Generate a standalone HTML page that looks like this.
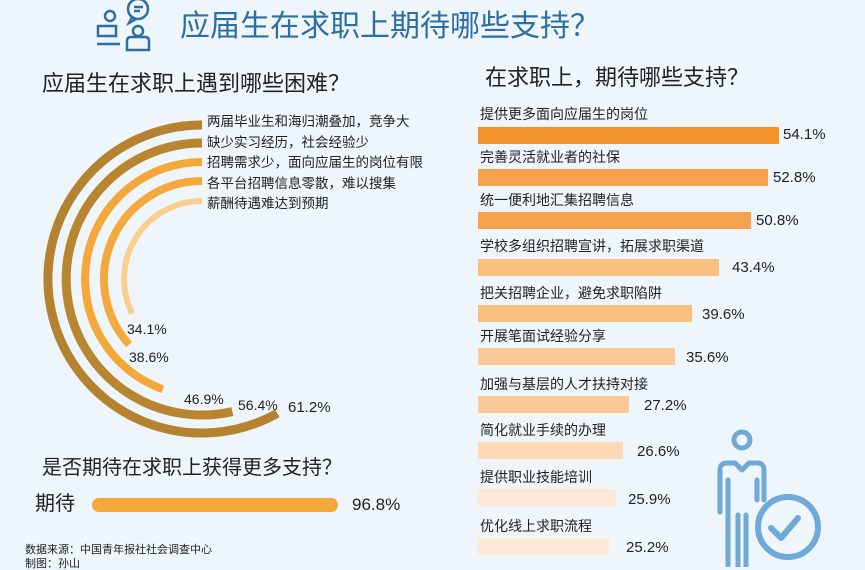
<!DOCTYPE html>
<html><head><meta charset="utf-8"><style>
html,body{margin:0;padding:0}
body{width:865px;height:567px;background:#eef5fb;position:relative;overflow:hidden;font-family:"Liberation Sans","Noto Sans CJK SC",sans-serif;color:#222}
.t{position:absolute;white-space:nowrap;line-height:1}
.bar{position:absolute;left:478px;height:17px}
</style></head><body>
<svg width="865" height="567" style="position:absolute;left:0;top:0">
<g fill="none" stroke="#2e6fa3" stroke-width="2.5">
<circle cx="110" cy="16" r="5"/>
<path d="M98 36 v-10 h18 v10 z"/>
<line x1="97" y1="44" x2="120" y2="44"/>
<circle cx="138" cy="9" r="10"/>
<path d="M132 17 l-3 6 l7 -4"/>
<line x1="134" y1="7" x2="143" y2="7"/><line x1="134" y1="11" x2="140" y2="11"/>
<circle cx="138" cy="31" r="5"/>
<path d="M127 50 v-9 q0 -4 4 -4 h14 q4 0 4 4 v9 z"/>
</g>
<g fill="none" stroke-linecap="butt">
<path d="M202 125 A154 154 0 1 0 277.3 413.3" stroke="#b5832f" stroke-width="9"/>
<path d="M202 143 A136 136 0 1 0 232.4 411.6" stroke="#b8862f" stroke-width="9"/>
<path d="M202 162 A117 117 0 0 0 162.8 389.2" stroke="#f5a83a" stroke-width="8"/>
<path d="M202 181 A98 98 0 0 0 129.2 344.6" stroke="#f4a93e" stroke-width="8"/>
<path d="M202 201 A78 78 0 0 0 132.3 313.9" stroke="#f8cf8c" stroke-width="6"/>
</g>
<rect x="92" y="498" width="246" height="14" rx="7" fill="#f5a83a"/>
<g fill="none" stroke="#6fa9d8" stroke-width="5" stroke-linejoin="round" stroke-linecap="round">
<circle cx="742" cy="440" r="8"/>
<path d="M720 512 V470 q0 -7 7 -7 h8 l7 7 l7 -7 h8 q7 0 7 7 V500"/>
<path d="M728 480 V512 M757 480 V500"/>
<path d="M728 512 V567 M738 515 V567 M746 515 V567"/>
<circle cx="788" cy="527" r="30" stroke-width="6"/>
<path d="M771 528 l10 10 l17 -20" stroke-width="6"/>
</g>
</svg>
<div class="t" style="left:180px;top:12px;font-size:30px;color:#2e6fa3">应届生在求职上期待哪些支持？</div>
<div class="t" style="left:42px;top:73px;font-size:22px">应届生在求职上遇到哪些困难？</div>
<div class="t" style="left:485px;top:67px;font-size:22px">在求职上，期待哪些支持？</div>
<div class="t" style="left:207px;top:115px;font-size:13.5px">两届毕业生和海归潮叠加，竞争大</div>
<div class="t" style="left:207px;top:136px;font-size:13.5px">缺少实习经历，社会经验少</div>
<div class="t" style="left:207px;top:156px;font-size:13.5px">招聘需求少，面向应届生的岗位有限</div>
<div class="t" style="left:207px;top:177px;font-size:13.5px">各平台招聘信息零散，难以搜集</div>
<div class="t" style="left:207px;top:197px;font-size:13.5px">薪酬待遇难达到预期</div>
<div class="t" style="left:127px;top:322px;font-size:14px">34.1%</div>
<div class="t" style="left:129px;top:350px;font-size:14px">38.6%</div>
<div class="t" style="left:184px;top:392px;font-size:14px">46.9%</div>
<div class="t" style="left:238px;top:398px;font-size:14px">56.4%</div>
<div class="t" style="left:288px;top:400px;font-size:15px">61.2%</div>
<div class="t" style="left:42px;top:458px;font-size:20px">是否期待在求职上获得更多支持？</div>
<div class="t" style="left:35px;top:494px;font-size:20px">期待</div>
<div class="t" style="left:352px;top:496px;font-size:17px">96.8%</div>
<div class="t" style="left:25px;top:545px;font-size:11px">数据来源：中国青年报社社会调查中心</div>
<div class="t" style="left:25px;top:559px;font-size:11px">制图：孙山</div>

<div class="t" style="left:480px;top:107px;font-size:14px">提供更多面向应届生的岗位</div>
<div class="bar" style="top:127px;width:301px;background:#f3922a"></div>
<div class="t" style="left:783px;top:127px;font-size:15px">54.1%</div>
<div class="t" style="left:480px;top:150px;font-size:14px">完善灵活就业者的社保</div>
<div class="bar" style="top:169px;width:290px;background:#f5a24e"></div>
<div class="t" style="left:773px;top:170px;font-size:15px">52.8%</div>
<div class="t" style="left:480px;top:193px;font-size:14px">统一便利地汇集招聘信息</div>
<div class="bar" style="top:212px;width:273px;background:#f5a24e"></div>
<div class="t" style="left:756px;top:213px;font-size:15px">50.8%</div>
<div class="t" style="left:480px;top:239px;font-size:14px">学校多组织招聘宣讲，拓展求职渠道</div>
<div class="bar" style="top:259px;width:241px;background:#f9bf7f"></div>
<div class="t" style="left:732px;top:260px;font-size:15px">43.4%</div>
<div class="t" style="left:480px;top:286px;font-size:14px">把关招聘企业，避免求职陷阱</div>
<div class="bar" style="top:305px;width:214px;background:#f9bf7f"></div>
<div class="t" style="left:702px;top:307px;font-size:15px">39.6%</div>
<div class="t" style="left:480px;top:329px;font-size:14px">开展笔面试经验分享</div>
<div class="bar" style="top:348px;width:197px;background:#fcca98"></div>
<div class="t" style="left:686px;top:350px;font-size:15px">35.6%</div>
<div class="t" style="left:480px;top:377px;font-size:14px">加强与基层的人才扶持对接</div>
<div class="bar" style="top:396px;width:151px;background:#fcca98"></div>
<div class="t" style="left:644px;top:398px;font-size:15px">27.2%</div>
<div class="t" style="left:480px;top:423px;font-size:14px">简化就业手续的办理</div>
<div class="bar" style="top:442px;width:145px;background:#fdd9b4"></div>
<div class="t" style="left:637px;top:444px;font-size:15px">26.6%</div>
<div class="t" style="left:480px;top:470px;font-size:14px">提供职业技能培训</div>
<div class="bar" style="top:489px;width:138px;background:#fde9d5"></div>
<div class="t" style="left:628px;top:492px;font-size:15px">25.9%</div>
<div class="t" style="left:480px;top:519px;font-size:14px">优化线上求职流程</div>
<div class="bar" style="top:538px;width:131px;background:#fde9d5"></div>
<div class="t" style="left:626px;top:540px;font-size:15px">25.2%</div>
</body></html>
